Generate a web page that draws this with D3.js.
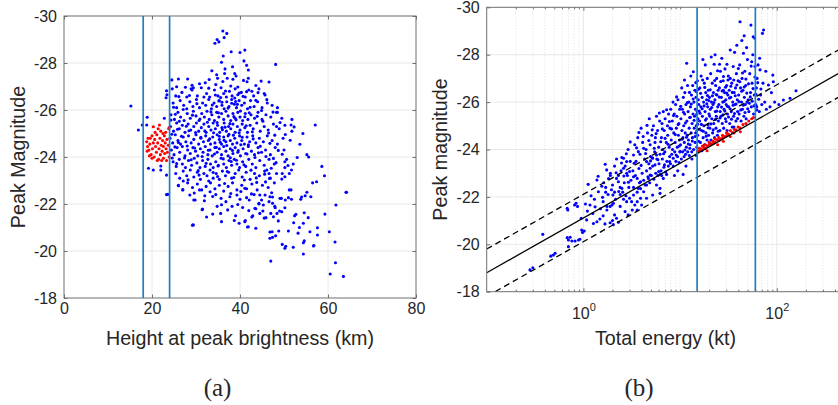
<!DOCTYPE html>
<html>
<head>
<meta charset="utf-8">
<script src="https://d3js.org/d3.v7.min.js"></script>
<style>
  html, body { margin: 0; padding: 0; background: #fff; }
  svg { display: block; font-family: "Liberation Sans", Arial, Helvetica, sans-serif; }
</style>
</head>
<body>
<svg id="chart" width="838" height="405"></svg>
<script>
(function () {
    'use strict';

    // ---- panel (a): height at peak brightness (km) vs peak magnitude ----
    var heightTicks = [0, 20, 40, 60, 80],
        magTicks = [-30, -28, -26, -24, -22, -20, -18],
        heightCuts = [18, 24];

    var heightBlue = [
        [15.2,-26.17],[16.9,-25.15],[17.8,-25.36],[18.9,-25.69],[18.8,-25.36],[22.8,-25.65],[23.2,-26.52],[23.3,-26.82],[23.4,-26.65],
        [24.5,-27.28],[26.0,-27.32],[25.6,-26.99],[28.1,-27.32],[28.9,-26.9],[29.1,-27.05],[29.4,-26.95],[32.1,-27.16],[33.0,-27.3],
        [33.6,-27.67],[34.3,-28.84],[34.8,-29.0],[35.2,-28.9],[36.1,-29.36],[36.4,-29.08],[37.0,-29.26],[35.8,-28.03],[36.2,-28.3],
        [36.6,-27.75],[38.0,-28.48],[38.3,-27.84],[40.0,-28.45],[41.1,-28.55],[40.9,-28.09],[41.5,-27.9],[41.9,-27.7],[41.9,-27.35],
        [41.6,-27.2],[34.7,-27.5],[34.9,-27.35],[36.5,-27.55],[37.1,-27.35],[38.8,-27.55],[39.1,-27.45],[44.8,-27.23],[46.6,-27.19],
        [48.1,-27.94],[44.1,-26.74],[45.7,-26.64],[42.7,-26.8],[41.5,-26.78],[39.8,-26.72],[48.5,-26.1],[48.5,-25.9],[51.8,-25.6],
        [51.6,-25.36],[51.8,-25.1],[57.1,-25.36],[54.3,-25.0],[48.3,-25.3],[53.6,-24.54],[55.2,-24.1],[55.6,-24.0],[58.6,-23.6],
        [59.2,-23.2],[57.4,-22.95],[64.1,-22.5],[50.0,-24.3],[50.6,-23.9],[51.2,-23.3],[52.1,-23.7],[49.6,-23.3],[46.6,-23.3],
        [23.3,-22.4],[29.2,-21.1],[31.4,-21.76],[32.4,-21.45],[33.8,-21.57],[35.8,-21.25],[35.6,-21.6],[38.7,-21.3],[39.8,-21.18],
        [39.0,-21.5],[41.2,-21.3],[41.7,-21.02],[43.6,-20.97],[42.9,-21.5],[43.6,-21.8],[44.3,-22.0],[45.2,-21.7],[45.5,-21.4],
        [46.6,-22.1],[47.0,-21.6],[47.4,-22.3],[47.9,-21.9],[48.4,-21.6],[49.0,-21.7],[46.8,-20.81],[47.4,-20.58],[48.8,-20.85],
        [47.0,-19.57],[49.6,-20.28],[50.2,-20.12],[50.4,-20.2],[52.1,-20.16],[51.7,-22.2],[52.2,-21.2],[52.4,-21.5],[53.2,-20.76],
        [53.5,-21.0],[54.4,-21.18],[54.6,-21.63],[55.5,-21.42],[54.4,-20.35],[54.6,-20.43],[54.4,-19.87],[55.9,-20.82],[56.7,-20.21],
        [57.6,-20.99],[57.6,-20.68],[56.8,-20.23],[56.1,-22.31],[55.2,-22.5],[59.3,-21.57],[60.3,-20.82],[61.6,-20.38],[61.8,-21.96],
        [61.7,-19.5],[60.5,-19.02],[63.5,-18.92],[64.2,-22.5],[51.0,-20.85],[48.1,-20.65],[47.3,-20.82],[46.8,-20.54],[41.9,-21.03],
        [41.1,-21.25],[42.7,-21.45],[44.5,-21.6],[45.9,-21.42],[47.6,-21.46],[48.7,-21.28],[49.5,-21.67],[50.2,-21.84],[52.7,-21.56],
        [43.4,-21.82],[45.3,-21.96],[48.0,-21.84],[51.2,-22.6],[53.8,-22.2],[54.8,-22.35],[51.0,-22.27],[49.1,-22.24],[46.8,-22.31],
        [44.5,-22.38],[41.5,-22.27],[41.1,-22.67],[43.8,-22.92],[46.7,-23.09],[49.5,-23.06],[50.2,-23.16],[51.7,-23.45],[50.2,-23.55],
        [47.6,-23.94],[50.2,-23.8],[46.1,-23.45],[26.0,-22.78],[27.0,-22.61],[27.1,-22.98],[28.6,-22.38],[29.8,-22.17],[31.5,-21.79],
        [29.4,-21.11],[23.6,-22.41],[19.2,-23.52],[20.3,-23.45],[22.0,-23.45],[22.0,-23.62],[23.3,-23.23],[33.2,-22.52],[35.7,-22.24],
        [37.7,-22.31],[39.3,-22.38],[40.0,-22.2],[42.1,-22.17],[43.2,-22.4],[44.3,-22.03],[45.7,-22.38],[47.4,-22.03],[49.4,-22.24],
        [50.3,-22.17],[51.6,-22.6],[54.0,-22.3],[56.5,-22.9],[29.5,-22.17],[30.8,-22.6],[32.0,-22.35],[34.5,-22.4],[36.8,-22.1],
        [38.2,-21.9],[40.6,-21.85],[37.2,-21.75],[34.8,-21.9],
        [24.6,-26.9],[25.4,-26.6],[26.8,-26.75],[27.9,-26.55],[29.1,-26.85],[30.3,-26.6],[31.2,-26.95],[32.4,-26.7],[33.1,-26.55],
        [34.2,-26.85],[35.0,-26.6],[35.7,-26.95],[36.3,-26.7],[36.9,-26.55],[37.6,-26.8],[38.2,-26.6],[38.9,-26.9],[39.5,-26.65],
        [40.3,-26.75],[41.2,-26.55],[42.0,-26.85],[43.1,-26.6],[44.3,-26.9],[45.5,-26.7],
        [24.8,-26.3],[25.6,-26.1],[26.4,-26.4],[27.2,-26.2],[27.9,-26.05],[28.6,-26.35],[29.3,-26.15],[30.1,-26.45],[30.8,-26.1],
        [31.5,-26.3],[32.2,-26.2],[32.9,-26.45],[33.5,-26.05],[34.1,-26.3],[34.7,-26.15],[35.3,-26.4],[35.9,-26.2],[36.4,-26.05],
        [37.0,-26.35],[37.5,-26.15],[38.1,-26.45],[38.7,-26.25],[39.2,-26.1],[39.8,-26.4],[40.4,-26.2],[41.0,-26.3],[41.7,-26.05],
        [42.4,-26.4],[43.2,-26.15],[44.0,-26.35],[45.0,-26.1],[46.2,-26.3],[47.3,-26.2],
        [24.3,-25.8],[25.1,-25.6],[25.9,-25.9],[26.5,-25.7],[27.3,-25.55],[28.0,-25.85],[28.7,-25.65],[29.4,-25.95],[30.0,-25.75],
        [30.7,-25.55],[31.3,-25.85],[31.9,-25.7],[32.5,-25.95],[33.0,-25.6],[33.6,-25.8],[34.2,-25.55],[34.7,-25.9],[35.2,-25.7],
        [35.8,-25.85],[36.3,-25.6],[36.8,-25.95],[37.3,-25.75],[37.9,-25.55],[38.4,-25.85],[38.9,-25.65],[39.5,-25.9],[40.0,-25.7],
        [40.6,-25.55],[41.2,-25.85],[41.8,-25.6],[42.5,-25.8],[43.3,-25.65],[44.1,-25.9],[45.0,-25.6],[45.9,-25.8],[47.0,-25.7],
        [48.3,-25.9],[49.5,-25.65],
        [24.2,-25.3],[24.9,-25.1],[25.6,-25.45],[26.2,-25.2],[26.9,-25.35],[27.5,-25.05],[28.2,-25.4],[28.8,-25.15],[29.5,-25.3],
        [30.1,-25.45],[30.6,-25.1],[31.2,-25.25],[31.8,-25.4],[32.3,-25.05],[32.9,-25.3],[33.4,-25.15],[33.9,-25.45],[34.4,-25.2],
        [34.9,-25.35],[35.4,-25.05],[35.9,-25.25],[36.4,-25.45],[36.9,-25.1],[37.4,-25.3],[37.9,-25.2],[38.4,-25.4],[38.9,-25.05],
        [39.4,-25.3],[40.0,-25.15],[40.5,-25.4],[41.1,-25.25],[41.7,-25.05],[42.3,-25.35],[43.0,-25.2],[43.8,-25.45],[44.6,-25.1],
        [45.5,-25.3],[46.4,-25.15],[47.6,-25.4],[48.9,-25.2],[50.2,-25.35],
        [24.1,-24.8],[24.7,-24.6],[25.3,-24.95],[25.9,-24.7],[26.5,-24.55],[27.1,-24.85],[27.7,-24.65],[28.3,-24.9],[28.9,-24.6],
        [29.5,-24.75],[30.0,-24.95],[30.6,-24.55],[31.1,-24.8],[31.7,-24.65],[32.2,-24.9],[32.8,-24.7],[33.3,-24.55],[33.8,-24.85],
        [34.3,-24.6],[34.8,-24.95],[35.3,-24.75],[35.8,-24.55],[36.3,-24.85],[36.8,-24.65],[37.3,-24.9],[37.8,-24.7],[38.3,-24.55],
        [38.8,-24.8],[39.3,-24.6],[39.9,-24.9],[40.4,-24.7],[41.0,-24.55],[41.6,-24.85],[42.2,-24.65],[42.9,-24.9],[43.6,-24.6],
        [44.4,-24.8],[45.3,-24.65],[46.2,-24.9],[47.3,-24.7],[48.5,-24.55],[49.8,-24.8],
        [24.4,-24.3],[25.0,-24.1],[25.7,-24.4],[26.3,-24.2],[26.9,-24.45],[27.5,-24.05],[28.1,-24.3],[28.7,-24.15],[29.3,-24.4],
        [29.9,-24.25],[30.4,-24.05],[31.0,-24.35],[31.6,-24.2],[32.1,-24.45],[32.7,-24.1],[33.2,-24.3],[33.7,-24.05],[34.3,-24.4],
        [34.8,-24.2],[35.3,-24.35],[35.8,-24.1],[36.3,-24.45],[36.8,-24.25],[37.3,-24.05],[37.8,-24.35],[38.4,-24.15],[38.9,-24.4],
        [39.5,-24.2],[40.1,-24.05],[40.7,-24.35],[41.3,-24.15],[41.9,-24.45],[42.6,-24.25],[43.3,-24.1],[44.1,-24.4],[44.9,-24.2],
        [45.8,-24.3],[46.9,-24.1],[48.0,-24.4],
        [24.8,-23.8],[25.5,-23.6],[26.2,-23.9],[26.9,-23.7],[27.6,-23.55],[28.3,-23.85],[29.0,-23.65],[29.6,-23.95],[30.2,-23.75],
        [30.9,-23.55],[31.5,-23.85],[32.1,-23.6],[32.7,-23.9],[33.3,-23.7],[33.9,-23.55],[34.5,-23.8],[35.1,-23.65],[35.7,-23.95],
        [36.3,-23.7],[36.9,-23.55],[37.5,-23.85],[38.1,-23.65],[38.7,-23.9],[39.3,-23.7],[39.9,-23.55],[40.6,-23.8],[41.3,-23.6],
        [42.0,-23.9],[42.8,-23.7],[43.6,-23.55],[44.5,-23.85],[45.5,-23.65],[46.6,-23.9],[47.8,-23.7],
        [25.4,-23.3],[26.3,-23.1],[27.1,-23.4],[27.9,-23.2],[28.7,-23.45],[29.5,-23.15],[30.3,-23.35],[31.0,-23.05],[31.8,-23.3],
        [32.5,-23.2],[33.2,-23.45],[33.9,-23.1],[34.6,-23.3],[35.3,-23.05],[36.0,-23.4],[36.7,-23.2],[37.4,-23.35],[38.1,-23.1],
        [38.9,-23.3],[39.7,-23.45],[40.5,-23.15],[41.4,-23.35],[42.3,-23.05],[43.3,-23.3],[44.4,-23.2],[45.6,-23.4],[46.9,-23.1],
        [48.3,-23.3],
        [26.0,-22.8],[27.0,-22.6],[28.1,-22.9],[29.2,-22.7],[30.3,-22.85],[31.3,-22.6],[32.3,-22.75],[33.3,-22.9],[34.3,-22.65],
        [35.3,-22.8],[36.3,-22.55],[37.3,-22.75],[38.3,-22.9],[39.3,-22.6],[40.4,-22.8],[41.5,-22.65],[42.7,-22.85],[43.9,-22.6],
        [45.1,-22.8],[46.4,-22.7],[47.8,-22.9],
        [26.2,-25.52],[26.7,-24.88],[27.1,-26.02],[27.4,-23.96],[27.8,-25.31],[28.0,-24.47],[28.4,-25.12],[28.5,-26.62],[28.9,-23.88],
        [29.2,-25.78],[29.7,-24.38],[29.9,-25.04],[30.2,-26.27],[30.5,-23.42],[30.9,-25.62],[31.1,-24.84],[31.4,-24.02],[31.8,-26.55],
        [32.0,-25.11],[32.3,-23.73],[32.6,-25.48],[32.8,-24.29],[33.1,-24.77],[33.4,-25.92],[33.7,-26.21],[33.9,-23.34],[34.0,-25.03],
        [34.2,-24.13],[34.4,-26.64],[34.6,-24.41],[34.8,-25.47],[35.0,-23.62],[35.1,-25.88],[35.3,-24.88],[35.5,-24.63],[35.6,-26.53],
        [35.9,-26.33],[36.0,-25.16],[36.2,-23.92],[36.4,-24.71],[36.6,-25.27],[36.7,-26.81],[37.0,-24.49],[37.1,-23.38],[37.3,-26.08],
        [37.5,-24.97],[37.7,-25.42],[37.8,-23.97],[38.0,-23.81],[38.1,-26.29],[38.3,-24.28],[38.5,-24.93],[38.6,-25.72],[38.8,-26.51],
        [39.1,-25.58],[39.2,-23.86],[39.4,-26.24],[39.6,-24.27],[39.8,-25.03],[40.1,-25.96],[40.2,-24.52],[40.5,-24.84],[40.7,-26.58],
        [40.9,-23.67],[41.1,-25.71],[41.4,-25.33],[41.6,-24.13],[41.9,-24.52],[42.1,-25.88],[42.3,-26.12],[42.5,-23.44],[42.8,-25.07],
        [43.0,-24.77],[43.4,-23.98],[43.6,-26.41],[43.9,-25.73],[44.2,-24.18],
        [44.6,-24.46],[44.9,-25.98],[45.2,-25.52],[45.6,-23.27],[45.9,-24.02],[46.1,-26.44],[46.5,-25.02],[46.8,-24.58],[47.1,-23.52],
        [47.5,-25.91],[47.9,-24.93],[48.2,-23.76],[48.7,-24.28],[49.1,-25.47],[49.6,-24.12],[50.3,-24.96],[50.9,-23.64],[51.4,-24.71],
        [52.3,-25.28],[53.0,-23.98],
        [24.3,-25.57],[24.5,-24.97],[24.6,-23.96],[24.9,-26.12],[25.2,-24.43],[25.3,-25.82],[25.6,-23.72],[25.8,-25.18],[26.0,-24.62],
        [26.1,-26.57],
        [28.2,-23.03],[29.6,-22.47],[30.7,-23.23],[31.9,-22.14],[32.9,-22.98],[33.8,-22.32],[34.9,-23.17],[35.8,-21.97],[36.5,-22.87],
        [37.9,-22.45],[38.6,-23.13],[39.5,-21.98],[40.2,-22.53],[41.0,-23.02],[42.0,-21.72],[42.6,-22.43],[43.7,-23.11],[44.9,-22.17],
        [45.8,-22.94],[47.2,-22.48],
        [27.6,-26.97],[30.8,-27.12],[32.9,-26.93],[34.5,-27.08],[36.1,-27.21],[37.9,-27.02],[39.5,-26.98],[40.8,-27.26],[43.6,-27.04],
        [38.4,-27.31],[35.2,-26.38],[39.0,-26.36]
    ];

    var heightRed = [
        [18.8,-24.65],[19.0,-24.45],[19.3,-24.3],[19.5,-24.55],[19.6,-24.8],[19.8,-24.1],[20.0,-24.9],[20.1,-24.35],[20.3,-25.29],
        [20.3,-24.6],[20.5,-24.0],[20.6,-24.75],[20.8,-24.45],[21.0,-24.2],[21.1,-24.95],[21.3,-24.6],[21.5,-23.9],[21.6,-24.35],
        [21.7,-25.36],[21.8,-24.8],[21.9,-24.1],[22.0,-25.1],[22.1,-24.5],[22.3,-24.25],[22.4,-24.7],[22.6,-23.95],[22.6,-24.45],
        [22.8,-24.9],[22.9,-24.15],[23.0,-24.6],[23.2,-24.35],[23.3,-23.85],[23.4,-24.75],[23.5,-24.2],[23.7,-24.5],[23.8,-25.2],
        [23.9,-24.0],[23.9,-25.25],[20.0,-23.95],[19.4,-24.05],[21.2,-23.85],[22.2,-23.85],[20.7,-25.05],[19.1,-24.8],[18.9,-24.25],
        [22.5,-25.0],[21.4,-25.2],[23.1,-25.05]
    ];

    // ---- panel (b): total energy (kt) vs peak magnitude ----
    var energyTicks = [1, 100],
        energyCuts = [15, 60],
        fitIntercept = -21.11,
        fitSlope = -2.31,
        fitBand = 1;

    var energyBlue = [
        [0.28,-18.92],[0.30,-19.01],[0.38,-20.42],[0.46,-19.5],[0.49,-19.55],[0.51,-19.62],[0.70,-19.9],[0.73,-20.3],[0.68,-20.28],
        [0.70,-20.18],[0.76,-20.14],[0.82,-20.14],[0.89,-20.18],[0.92,-20.21],[0.96,-20.6],[0.98,-20.5],[0.68,-21.52],[0.69,-21.45],
        [0.81,-21.66],[0.84,-21.73],[0.87,-21.6],[1.02,-20.56],[1.08,-21.03],[1.17,-21.66],[1.27,-20.88],[1.38,-20.95],[1.48,-21.07],
        [1.38,-22.71],[1.43,-22.22],[1.74,-23.14],[1.67,-20.86],[1.89,-20.91],[2.0,-21.0],[2.04,-20.83],[2.2,-21.1],[2.3,-20.93],
        [1.89,-21.6],[1.98,-21.66],[2.04,-21.73],[2.1,-21.24],[2.7,-21.38],[2.9,-21.24],[3.2,-21.45],[3.4,-21.66],[3.6,-21.8],
        [3.9,-21.94],[4.2,-22.22],[4.5,-22.5],[4.7,-22.78],[4.9,-22.92],[3.9,-22.64],[3.7,-22.36],[3.3,-22.08],[3.0,-21.94],
        [2.8,-21.8],[2.6,-23.63],[2.5,-23.66],[2.8,-23.49],[3.3,-23.77],[3.7,-23.91],[4.2,-24.05],[4.5,-23.49],[5.2,-23.63],
        [5.7,-23.77],[5.5,-23.35],[4.9,-23.21],[5.7,-22.5],[6.2,-22.36],[6.7,-22.78],[6.0,-23.07],[6.9,-23.35],[7.8,-23.49],
        [8.5,-23.63],[9.1,-23.77],[10.0,-23.91],[11.2,-23.98],[12.6,-24.05],[4.5,-21.94],[4.0,-21.66],[3.6,-21.45],[5.2,-22.08],
        [6.2,-22.15],[2.2,-22.78],[2.3,-22.64],[2.5,-22.36],[2.6,-23.21],[2.8,-23.0],[3.0,-23.07],[3.3,-22.85],[3.6,-22.78],
        [1.55,-22.45],[1.62,-22.6],[1.9,-22.9],[2.1,-23.3],[1.95,-22.3],[1.7,-22.2],[1.3,-21.9],[1.2,-22.05],[1.5,-21.5],
        [1.25,-21.3],[1.6,-21.2],[1.75,-21.45],[2.4,-21.6],[2.6,-21.9],[2.4,-22.1],[1.1,-21.4],[0.95,-21.1],[1.05,-21.7],
        [1.6,-21.8],[1.7,-22.4],[1.8,-22.1],[1.9,-23.0],[2.0,-22.5],[2.1,-22.2],[2.2,-23.6],[2.3,-22.9],[2.4,-22.4],[2.45,-23.1],
        [1.75,-21.6],[2.15,-21.9],
        [2.55,-22.2],[2.65,-22.6],[2.7,-23.3],[2.75,-22.05],[2.85,-22.9],[2.9,-24.0],[2.95,-22.4],[3.05,-23.5],[3.1,-22.7],[3.15,-21.8],
        [3.25,-23.1],[3.3,-22.4],[3.4,-24.2],[3.45,-22.9],[3.5,-23.5],[3.6,-22.2],[3.65,-24.5],[3.75,-23.2],[3.8,-22.6],[3.85,-23.8],
        [3.9,-22.35],[3.95,-24.9],
        [4.05,-23.0],[4.1,-24.3],[4.2,-22.7],[4.3,-23.6],[4.35,-22.5],[4.45,-24.0],[4.5,-23.1],[4.6,-24.7],[4.65,-22.85],[4.75,-23.4],
        [4.8,-25.3],[4.85,-22.6],[4.9,-24.2],[4.95,-23.7],
        [5.05,-22.9],[5.1,-24.6],[5.2,-23.3],[5.3,-25.0],[5.35,-22.75],[5.45,-23.9],[5.5,-24.3],[5.6,-23.0],[5.7,-25.4],[5.75,-23.6],
        [5.85,-24.8],[5.9,-22.9],[6.0,-24.1],[6.05,-23.4],[6.15,-25.2],[6.2,-23.8],[6.25,-22.95],[5.15,-23.65],[5.55,-24.5],
        [6.35,-23.1],[6.4,-24.5],[6.5,-25.1],[6.55,-23.6],[6.6,-24.0],[6.7,-25.6],[6.8,-23.25],[6.85,-24.8],[6.95,-23.9],[7.0,-25.3],
        [7.1,-23.05],[7.2,-24.3],[7.3,-23.5],[7.4,-25.0],[7.45,-24.6],[7.55,-23.3],[7.6,-25.5],[7.7,-24.1],[7.8,-23.7],[7.85,-24.9],
        [6.45,-22.9],[7.25,-22.95],
        [7.95,-23.4],[8.0,-25.7],[8.1,-24.4],[8.2,-23.8],[8.3,-25.2],[8.35,-24.0],[8.45,-26.0],[8.5,-23.3],[8.6,-24.7],[8.7,-25.5],
        [8.8,-23.9],[8.9,-24.3],[9.0,-25.9],[9.05,-23.5],[9.15,-24.9],[9.25,-25.4],[9.35,-24.1],[9.4,-23.7],[9.5,-26.1],[9.6,-24.6],
        [9.7,-25.1],[9.75,-23.45],[9.85,-24.4],[9.9,-25.7],[9.95,-23.9],[8.75,-22.9],[9.45,-23.1],
        [10.1,-24.2],[10.2,-25.3],[10.3,-23.6],[10.4,-26.6],[10.45,-24.8],[10.55,-25.7],[10.6,-23.9],[10.7,-24.5],[10.8,-26.2],
        [10.9,-25.0],[11.0,-23.7],[11.05,-24.3],[11.15,-25.5],[11.2,-26.4],[11.3,-24.7],[11.4,-23.8],[11.5,-25.9],[11.6,-24.1],
        [11.7,-27.64],[11.75,-25.2],[11.85,-24.6],[11.95,-26.7],[12.0,-23.9],[12.1,-25.6],[12.2,-24.4],[12.3,-26.0],[12.4,-24.9],
        [12.45,-23.75],[12.55,-25.35],[10.75,-22.95],[11.5,-23.3],
        [12.7,-24.2],[12.8,-25.8],[12.9,-27.1],[13.0,-24.7],[13.1,-26.3],[13.2,-23.9],[13.3,-25.1],[13.4,-24.5],[13.5,-26.7],
        [13.6,-25.5],[13.7,-27.28],[13.8,-24.0],[13.9,-26.0],[14.0,-24.9],[14.1,-25.4],[14.2,-26.5],[14.3,-24.3],[14.4,-25.7],
        [14.5,-24.7],[14.6,-26.2],[14.7,-25.0],[14.8,-26.44],[14.9,-24.1],[15.0,-25.6],[15.1,-26.9],[15.2,-24.6],[15.3,-25.3],
        [15.4,-26.1],[15.5,-24.35],[15.6,-25.9],[15.7,-24.85],[13.25,-23.6],[14.65,-23.75],
        [15.9,-25.2],[16.0,-26.6],[16.2,-24.3],[16.4,-25.8],[16.5,-27.1],[16.7,-24.8],[16.9,-26.2],[17.0,-25.4],[17.2,-27.8],
        [17.3,-24.5],[17.5,-26.0],[17.6,-25.0],[17.8,-26.8],[17.9,-24.2],[18.1,-25.6],[18.2,-27.57],[18.4,-26.4],[18.5,-24.7],
        [18.7,-25.3],[18.8,-26.1],[19.0,-24.4],[19.1,-27.0],[19.3,-25.8],[19.4,-25.05],[19.6,-26.5],[19.7,-24.6],[19.9,-25.5],
        [16.8,-23.95],[18.0,-24.05],
        [20.1,-26.2],[20.3,-24.9],[20.5,-25.7],[20.7,-27.2],[20.9,-24.4],[21.1,-26.0],[21.3,-25.3],[21.5,-26.8],[21.7,-24.7],
        [21.9,-25.9],[22.1,-26.4],[22.3,-25.1],[22.5,-27.6],[22.7,-24.5],[22.9,-26.1],[23.1,-25.6],[23.3,-26.7],[23.5,-24.9],
        [23.7,-25.4],[23.9,-27.0],[24.1,-26.3],[24.3,-24.6],[24.5,-25.8],[24.7,-26.5],[24.9,-25.2],[21.0,-27.9],[23.0,-28.0],
        [20.6,-24.25],
        [25.2,-25.9],[25.5,-26.6],[25.8,-24.8],[26.1,-27.3],[26.4,-25.4],[26.7,-26.2],[27.0,-27.85],[27.3,-25.1],[27.6,-26.0],
        [27.9,-26.9],[28.2,-24.9],[28.5,-25.7],[28.8,-26.4],[29.1,-27.4],[29.4,-25.3],[29.7,-26.1],[30.0,-25.9],[30.3,-26.7],
        [30.6,-24.8],[30.9,-25.5],[31.2,-26.3],[31.5,-27.1],[26.0,-25.6],[28.0,-26.5],[30.5,-27.6],[25.6,-27.6],
        [31.8,-25.8],[32.2,-26.5],[32.6,-25.1],[33.0,-27.0],[33.4,-26.2],[33.8,-25.6],[34.2,-26.8],[34.6,-24.95],[35.0,-26.0],
        [35.4,-27.5],[35.8,-25.4],[36.2,-26.4],[36.6,-28.1],[37.0,-25.9],[37.4,-26.6],[37.8,-25.2],[38.2,-27.2],[38.6,-28.4],
        [39.0,-26.1],[39.4,-25.6],[39.8,-26.9],[33.0,-28.2],[36.0,-24.95],
        [40.3,-26.3],[40.8,-25.5],[41.3,-27.57],[41.7,-29.39],[42.2,-26.6],[42.7,-25.2],[43.2,-26.0],[43.7,-27.0],[44.2,-25.7],
        [44.7,-26.5],[45.2,-28.06],[45.7,-25.4],[46.2,-26.2],[46.7,-27.3],[47.2,-25.9],[47.7,-26.7],[48.2,-25.3],[48.7,-28.3],
        [49.2,-26.0],[49.7,-27.8],[43.5,-28.6],[46.0,-28.8],
        [50.5,-26.1],[51.5,-25.6],[52.5,-27.2],[53.5,-26.4],[54.0,-29.25],[54.5,-25.8],[55.5,-26.8],[56.5,-28.0],[57.0,-28.76],
        [57.5,-25.5],[58.5,-26.3],[59.5,-27.5],[60.5,-25.9],[61.5,-26.6],[62.0,-25.81],[62.5,-27.0],[55.0,-27.7],[59.0,-28.7],
        [64,-27.57],[66,-25.6],[67,-27.36],[68,-26.3],[70,-25.9],[71,-28.9],[72,-26.8],[73,-29.04],[75,-26.0],[77,-27.3],[78,-25.7],
        [82,-26.72],[85,-25.8],[88,-26.4],[91,-27.14],[92,-26.86],[95,-26.0],[117,-26.09],[137,-26.16],[158,-26.48],[105,-25.9],
        [8.15,-24.87],[8.55,-25.43],[8.9,-24.63],[9.2,-26.22],[9.55,-25.05],[9.8,-24.15],[10.15,-25.82],[10.5,-24.43],[10.85,-25.57],
        [11.1,-26.93],[11.35,-25.12],[11.65,-24.52],[11.9,-25.98],[12.15,-24.23],[12.5,-26.41],[12.75,-25.36],[13.05,-25.92],
        [13.35,-24.36],[13.65,-26.13],[13.95,-25.23],[14.25,-24.55],[14.55,-26.82],[14.85,-25.48],[15.15,-25.07],[15.45,-26.54],
        [15.75,-25.62],
        [16.1,-25.53],[16.3,-26.37],[16.6,-25.06],[16.9,-25.72],[17.1,-26.93],[17.4,-24.77],[17.7,-25.84],[18.0,-26.62],[18.3,-25.24],
        [18.6,-24.56],[18.9,-25.93],[19.2,-26.28],[19.5,-24.92],[19.8,-26.07],[20.2,-25.41],[20.5,-26.52],[20.8,-25.08],[21.2,-25.77],
        [21.6,-26.27],[22.0,-24.83],[22.4,-25.98],[22.8,-26.91],[23.2,-25.27],[23.6,-26.32],[24.0,-25.62],[24.4,-27.32],[24.8,-24.77],
        [25.4,-26.21],[25.9,-25.33],[26.3,-26.87],[26.8,-25.79],[27.2,-26.47],[27.7,-25.46],[28.1,-27.08],[28.6,-26.03],[29.0,-25.62],
        [29.5,-26.63],[29.9,-25.18],[30.4,-26.38],[30.8,-25.82],[31.3,-26.93],[31.7,-25.37],[32.4,-26.17],[32.9,-25.72],[33.5,-26.67],
        [34.0,-25.28],[34.7,-26.41],[35.3,-25.87],[35.9,-26.93],[36.5,-25.52],[37.2,-26.27],[37.9,-25.92],[38.6,-26.72],[39.3,-25.31],
        [40.0,-27.42],
        [40.6,-26.02],[41.5,-26.86],[42.4,-25.67],[43.3,-26.46],[44.2,-27.23],[45.1,-25.87],[46.0,-26.64],[46.9,-25.56],[47.9,-26.97],
        [48.9,-26.38],[50.0,-25.72],[51.0,-26.77],[52.0,-25.95],[53.2,-26.22],[54.3,-27.52],[55.6,-26.04],[56.8,-26.57],[58.0,-25.84],
        [59.3,-27.06],[60.8,-26.33],[62.2,-25.67],[63.5,-26.82],[65.0,-26.12],[66.5,-27.85],[68.5,-26.55],
        [3.05,-24.32],[3.35,-23.42],[3.55,-24.07],[3.75,-24.72],[3.95,-23.33],[4.15,-24.55],[4.4,-23.83],[4.55,-25.02],[4.75,-24.38],
        [4.95,-23.52],[5.15,-24.83],[5.4,-24.05],[5.65,-24.67],[5.9,-23.57],[6.1,-25.54],[6.3,-24.33],[6.55,-24.87],[6.75,-23.82],
        [7.0,-24.47],[7.25,-25.68],[7.5,-24.22],[7.75,-25.18],
        [1.12,-22.53],[1.32,-21.58],[1.42,-22.87],[1.58,-21.98],[1.68,-23.38],[1.82,-22.77],[2.02,-22.08],[2.18,-23.02],[2.32,-22.23],
        [2.48,-23.43],[2.62,-22.88],[2.78,-23.82],[2.92,-22.62]
    ];

    var energyRed = [
        [15.1,-23.9],[15.8,-23.95],[15.9,-24.05],[16.6,-24.0],[17.4,-24.1],[18.2,-24.05],[18.3,-24.2],[19.1,-24.15],[20.0,-24.3],
        [20.1,-24.2],[20.9,-24.2],[21.9,-24.35],[22.9,-24.3],[23.0,-24.45],[24.0,-24.4],[25.1,-24.5],[25.2,-24.38],[26.3,-24.45],
        [27.5,-24.6],[27.6,-24.5],[28.8,-24.55],[30.2,-24.7],[30.3,-24.58],[31.6,-24.65],[33.1,-24.8],[34.7,-24.72],[36.3,-24.85],
        [38.0,-24.82],[39.8,-24.95],[41.7,-24.92],[44.7,-25.05],[47.9,-25.1],[51.3,-25.2],[55.0,-25.3],[57.5,-25.35],[24.5,-24.2],
        [33.0,-24.55],[19.0,-23.95],[28.0,-24.35],[42.0,-24.75],[17.0,-24.15],[22.0,-24.25],[36.0,-24.7]
    ];

    // ---- look ----
    var axisColor = '#6e6e6e',
        textColor = '#262626',
        gridColor = '#e8e8e8',
        cutColor = '#1f7fc4',
        blue = '#0000ff',
        red = '#ff0000',
        dotR = 1.55,
        tickLen = 3.5,
        tickFont = '16px',
        labelFont = '19.7px',
        captionFont = '"Liberation Serif", "Times New Roman", serif';

    var svg = d3.select('#chart');

    var panelA = { x0: 64, x1: 416, y0: 16, y1: 298 },
        panelB = { x0: 486.7, x1: 486.7 + 96.7 * Math.log10(5000), y0: 7.3, y1: 291.7 };

    var xA = d3.scaleLinear().domain([0, 80]).range([panelA.x0, panelA.x1]),
        yA = d3.scaleLinear().domain([-30, -18]).range([panelA.y0, panelA.y1]),
        xB = d3.scaleLog().domain([0.1, 500]).range([panelB.x0, panelB.x1]),
        yB = d3.scaleLinear().domain([-30, -18]).range([panelB.y0, panelB.y1]);

    // plain hyphen like the original, not the unicode minus
    function plain(d) { return String(d); }

    function clip(id, p) {
        svg.append('clipPath').attr('id', id)
            .append('rect')
            .attr('x', p.x0).attr('y', p.y0)
            .attr('width', p.x1 - p.x0).attr('height', p.y1 - p.y0);
    }

    function tidy(g) {
        g.select('.domain').remove();
        g.selectAll('line').attr('stroke', axisColor).attr('stroke-width', 1);
        g.selectAll('text').attr('fill', textColor).style('font-size', tickFont);
    }

    function grid(p, x, y, xv, yv) {
        var g = svg.append('g');
        g.selectAll(null).data(xv).enter().append('line')
            .attr('x1', function (d) { return x(d); }).attr('x2', function (d) { return x(d); })
            .attr('y1', p.y0).attr('y2', p.y1);
        g.selectAll(null).data(yv).enter().append('line')
            .attr('y1', function (d) { return y(d); }).attr('y2', function (d) { return y(d); })
            .attr('x1', p.x0).attr('x2', p.x1);
        return g.attr('stroke', gridColor).attr('stroke-width', 1);
    }

    function dots(layer, data, x, y, color) {
        layer.selectAll(null).data(data).enter().append('circle')
            .attr('cx', function (d) { return x(d[0]); })
            .attr('cy', function (d) { return y(d[1]); })
            .attr('r', dotR)
            .attr('fill', color);
    }

    function cuts(layer, values, x, p) {
        layer.selectAll(null).data(values).enter().append('line')
            .attr('x1', function (d) { return x(d); }).attr('x2', function (d) { return x(d); })
            .attr('y1', p.y0).attr('y2', p.y1)
            .attr('stroke', cutColor).attr('stroke-width', 1.7);
    }

    function frame(p) {
        svg.append('rect')
            .attr('x', p.x0).attr('y', p.y0)
            .attr('width', p.x1 - p.x0).attr('height', p.y1 - p.y0)
            .attr('fill', 'none').attr('stroke', axisColor).attr('stroke-width', 1);
    }

    clip('clipA', panelA);
    clip('clipB', panelB);

    // ---------- panel (a) ----------
    grid(panelA, xA, yA, heightTicks.slice(1, -1), magTicks.slice(1, -1));

    var plotA = svg.append('g').attr('clip-path', 'url(#clipA)');
    dots(plotA, heightBlue, xA, yA, blue);
    dots(plotA, heightRed, xA, yA, red);
    cuts(plotA, heightCuts, xA, panelA);

    svg.append('g').attr('transform', 'translate(0,' + panelA.y1 + ')')
        .call(d3.axisBottom(xA).tickValues(heightTicks).tickSize(-tickLen).tickPadding(5).tickFormat(plain))
        .call(tidy);
    svg.append('g').attr('transform', 'translate(0,' + panelA.y0 + ')')
        .call(d3.axisTop(xA).tickValues(heightTicks).tickSize(-tickLen).tickFormat(''))
        .call(tidy);
    svg.append('g').attr('transform', 'translate(' + panelA.x0 + ',0)')
        .call(d3.axisLeft(yA).tickValues(magTicks).tickSize(-tickLen).tickPadding(7).tickFormat(plain))
        .call(tidy);
    svg.append('g').attr('transform', 'translate(' + panelA.x1 + ',0)')
        .call(d3.axisRight(yA).tickValues(magTicks).tickSize(-tickLen).tickFormat(''))
        .call(tidy);
    frame(panelA);

    // ---------- panel (b) ----------
    var minorE = [];
    [0.1, 1, 10, 100].forEach(function (dec) {
        for (var k = 1; k <= 9; k++) {
            var v = +(dec * k).toPrecision(3);
            if (v > 0.1 && v <= 500 && energyTicks.indexOf(v) < 0) minorE.push(v);
        }
    });

    grid(panelB, xB, yB, minorE, []).attr('stroke', '#e0e0e0').attr('stroke-dasharray', '1,2');
    grid(panelB, xB, yB, energyTicks, magTicks.slice(1, -1));

    var plotB = svg.append('g').attr('clip-path', 'url(#clipB)');
    dots(plotB, energyBlue, xB, yB, blue);
    dots(plotB, energyRed, xB, yB, red);

    // fitted relation and its +/- band
    var fits = [
        { off: 0, dash: null },
        { off: -fitBand, dash: '6,4' },
        { off: fitBand, dash: '6,4' }
    ];
    plotB.selectAll(null).data(fits).enter().append('path')
        .attr('d', function (f) {
            return d3.line()
                .x(function (d) { return xB(d); })
                .y(function (d) { return yB(f.off + fitIntercept + fitSlope * Math.log10(d)); })(xB.domain());
        })
        .attr('fill', 'none')
        .attr('stroke', '#000')
        .attr('stroke-width', 1.3)
        .attr('stroke-dasharray', function (f) { return f.dash; });
    cuts(plotB, energyCuts, xB, panelB);

    var bx = svg.append('g').attr('transform', 'translate(0,' + panelB.y1 + ')')
        .call(d3.axisBottom(xB).tickValues(energyTicks).tickSize(-tickLen).tickPadding(16.2))
        .call(tidy);
    bx.selectAll('.tick text').each(function (d) {
        var t = d3.select(this);
        t.text(null);
        t.append('tspan').text('10');
        t.append('tspan').attr('dy', '-8px').style('font-size', '11px').text(Math.round(Math.log10(d)));
    });
    svg.append('g').attr('transform', 'translate(0,' + panelB.y1 + ')')
        .call(d3.axisBottom(xB).tickValues(minorE).tickSize(-2).tickFormat(''))
        .call(tidy);
    svg.append('g').attr('transform', 'translate(0,' + panelB.y0 + ')')
        .call(d3.axisTop(xB).tickValues(energyTicks).tickSize(-tickLen).tickFormat(''))
        .call(tidy);
    svg.append('g').attr('transform', 'translate(0,' + panelB.y0 + ')')
        .call(d3.axisTop(xB).tickValues(minorE).tickSize(-2).tickFormat(''))
        .call(tidy);
    svg.append('g').attr('transform', 'translate(' + panelB.x0 + ',0)')
        .call(d3.axisLeft(yB).tickValues(magTicks).tickSize(-tickLen).tickPadding(7).tickFormat(plain))
        .call(tidy);
    frame(panelB);

    // ---------- labels ----------
    function label(txt, x, y, rot, size, family) {
        svg.append('text')
            .attr('transform', 'translate(' + x + ',' + y + ')' + (rot ? ' rotate(' + rot + ')' : ''))
            .attr('text-anchor', 'middle')
            .attr('fill', textColor)
            .style('font-size', size)
            .style('font-family', family || null)
            .text(txt);
    }

    label('Height at peak brightness (km)', (panelA.x0 + panelA.x1) / 2, 345, 0, labelFont);
    label('Peak Magnitude', 25, (panelA.y0 + panelA.y1) / 2, -90, labelFont);
    label('Total energy (kt)', (panelB.x0 + panelB.x1) / 2, 345, 0, labelFont);
    label('Peak magnitude', 446.5, (panelB.y0 + panelB.y1) / 2, -90, labelFont);
    label('(a)', 217.5, 395.5, 0, '25px', captionFont);
    label('(b)', 639, 395.5, 0, '25px', captionFont);
})();
</script>
</body>
</html>
